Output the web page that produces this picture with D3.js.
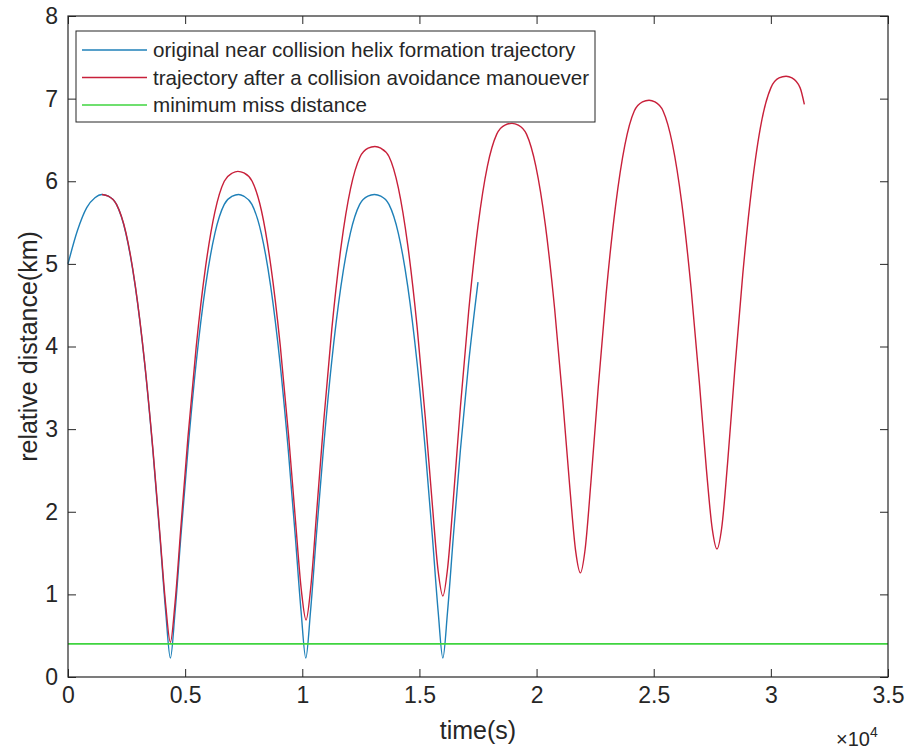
<!DOCTYPE html>
<html lang="en">
<head>
  <meta charset="utf-8">
  <title>relative distance</title>
  <script src="https://cdn.jsdelivr.net/npm/d3@7"></script>
  <style>
    body {
      margin: 0;
      background: #ffffff;
    }
    svg {
      display: block;
      font-family: "Liberation Sans", Arial, sans-serif;
    }
  </style>
</head>
<body>
  <svg id="chart" width="907" height="750"></svg>
  <script>
    //
    // Data (time in s, distance in km)
    //

    var blueTime = [0, 400, 800, 1150, 1450, 1720, 2070, 2470, 2870, 3270, 3620, 3920, 4170, 4370,
      4570, 4820, 5120, 5470, 5870, 6270, 6670, 7020, 7280,
      7500, 7850, 8250, 8650, 9050, 9400, 9700, 9950, 10150,
      10350, 10600, 10900, 11250, 11650, 12050, 12450, 12800, 13080,
      13350, 13700, 14100, 14500, 14900, 15250, 15550, 15800, 16000,
      16200, 16450, 16750, 17100, 17500]
    var blueDist = [5.00, 5.40, 5.68, 5.80, 5.84, 5.82, 5.72, 5.37, 4.73, 3.80, 2.75, 1.71, 0.79, 0.23,
      0.79, 1.71, 2.75, 3.80, 4.73, 5.37, 5.72, 5.82, 5.84,
      5.82, 5.72, 5.37, 4.73, 3.80, 2.75, 1.71, 0.79, 0.23,
      0.79, 1.71, 2.75, 3.80, 4.73, 5.37, 5.72, 5.82, 5.84,
      5.82, 5.72, 5.37, 4.73, 3.80, 2.75, 1.71, 0.79, 0.23,
      0.79, 1.71, 2.75, 3.80, 4.78]

    var redTime = [1450, 1720, 2070, 2470, 2870, 3270, 3620, 3920, 4170, 4370,
      4570, 4820, 5120, 5470, 5870, 6270, 6670, 7020, 7250,
      7510, 7860, 8260, 8660, 9060, 9410, 9710, 9960, 10160,
      10360, 10610, 10910, 11260, 11660, 12060, 12460, 12810, 13100,
      13350, 13700, 14100, 14500, 14900, 15250, 15550, 15800, 16000,
      16200, 16450, 16750, 17100, 17500, 17900, 18300, 18650, 18950,
      19220, 19570, 19970, 20370, 20770, 21120, 21420, 21670, 21870,
      22070, 22320, 22620, 22970, 23370, 23770, 24170, 24520, 24800,
      25050, 25400, 25800, 26200, 26600, 26950, 27250, 27500, 27700,
      27900, 28150, 28450, 28800, 29200, 29600, 30000, 30350, 30650,
      30900, 31250, 31430]
    var redDist = [5.84, 5.82, 5.72, 5.38, 4.74, 3.81, 2.77, 1.74, 0.87, 0.42,
      0.90, 1.82, 2.90, 3.99, 4.96, 5.63, 6.00, 6.10, 6.12,
      6.10, 6.00, 5.64, 4.97, 4.01, 2.94, 1.89, 1.05, 0.69,
      1.08, 1.98, 3.08, 4.21, 5.22, 5.91, 6.29, 6.40, 6.42,
      6.40, 6.30, 5.92, 5.23, 4.24, 3.14, 2.09, 1.28, 0.98,
      1.31, 2.16, 3.27, 4.42, 5.46, 6.18, 6.57, 6.68, 6.70,
      6.68, 6.57, 6.18, 5.48, 4.46, 3.34, 2.29, 1.52, 1.26,
      1.54, 2.36, 3.46, 4.64, 5.70, 6.44, 6.85, 6.96, 6.98,
      6.96, 6.85, 6.45, 5.73, 4.69, 3.56, 2.51, 1.79, 1.55,
      1.80, 2.58, 3.68, 4.87, 5.96, 6.72, 7.13, 7.25, 7.27,
      7.25, 7.13, 6.93]

    var missTime = [0, 35000]
    var missDist = [0.4, 0.4]

    var xTicks = [0, 5000, 10000, 15000, 20000, 25000, 30000, 35000]
    var xTickLabels = ['0', '0.5', '1', '1.5', '2', '2.5', '3', '3.5']
    var yTicks = [0, 1, 2, 3, 4, 5, 6, 7, 8]

    var seriesNames = [
      'original near collision helix formation trajectory',
      'trajectory after a collision avoidance manouever',
      'minimum miss distance'
    ]
    var seriesColors = ['#1f80b8', '#c8203a', '#3fd43f']

    //
    // Layout
    //

    var plotLeft = 68, plotTop = 16, plotRight = 888, plotBottom = 677
    var axisColor = '#262626'

    var svg = d3.select('#chart')

    var x = d3.scaleLinear().domain([0, 35000]).range([plotLeft, plotRight])
    var y = d3.scaleLinear().domain([0, 8]).range([plotBottom, plotTop])

    // axes, ticks pointing inward like matlab
    function styleAxis(g) {
      g.select('.domain').remove()
      g.selectAll('line').attr('stroke', axisColor)
      g.selectAll('text')
        .attr('fill', axisColor)
        .style('font-family', '"Liberation Sans", Arial, sans-serif')
        .style('font-size', '23px')
    }

    svg.append('g')
      .attr('transform', 'translate(0,' + plotBottom + ')')
      .call(d3.axisBottom(x).tickValues(xTicks)
        .tickFormat(function(d, i) { return xTickLabels[i] })
        .tickSize(-8).tickPadding(10))
      .call(styleAxis)

    svg.append('g')
      .attr('transform', 'translate(0,' + plotTop + ')')
      .call(d3.axisTop(x).tickValues(xTicks).tickFormat('').tickSize(-8))
      .call(styleAxis)

    svg.append('g')
      .attr('transform', 'translate(' + plotLeft + ',0)')
      .call(d3.axisLeft(y).tickValues(yTicks).tickFormat(d3.format('d'))
        .tickSize(-8).tickPadding(10))
      .call(styleAxis)

    svg.append('g')
      .attr('transform', 'translate(' + plotRight + ',0)')
      .call(d3.axisRight(y).tickValues(yTicks).tickFormat('').tickSize(-8))
      .call(styleAxis)

    //
    // Lines
    //

    var line = d3.line()
      .x(function(d) { return x(d[0]) })
      .y(function(d) { return y(d[1]) })
      .curve(d3.curveMonotoneX)

    var series = [
      d3.zip(blueTime, blueDist),
      d3.zip(redTime, redDist),
      d3.zip(missTime, missDist)
    ]
    var widths = [1.4, 1.4, 1.8]

    svg.append('g')
      .selectAll('path')
      .data(series)
      .join('path')
      .attr('d', line)
      .attr('fill', 'none')
      .attr('stroke', function(d, i) { return seriesColors[i] })
      .attr('stroke-width', function(d, i) { return widths[i] })

    // box
    svg.append('rect')
      .attr('x', plotLeft).attr('y', plotTop)
      .attr('width', plotRight - plotLeft).attr('height', plotBottom - plotTop)
      .attr('fill', 'none')
      .attr('stroke', axisColor)
      .attr('stroke-width', 1.2)

    //
    // Legend
    //

    var legend = svg.append('g')
    legend.append('rect')
      .attr('x', 76).attr('y', 31)
      .attr('width', 519).attr('height', 91)
      .attr('fill', '#ffffff')
      .attr('stroke', axisColor)
      .attr('stroke-width', 1)

    var rows = legend.selectAll('g.row')
      .data(seriesNames)
      .join('g')
      .attr('class', 'row')
      .attr('transform', function(d, i) { return 'translate(0,' + (50 + i * 27.5) + ')' })

    rows.append('line')
      .attr('x1', 82).attr('x2', 147)
      .attr('stroke', function(d, i) { return seriesColors[i] })
      .attr('stroke-width', 1.3)

    rows.append('text')
      .attr('x', 153)
      .attr('dy', '0.35em')
      .attr('fill', axisColor)
      .style('font-size', '20.6px')
      .text(function(d) { return d })

    //
    // Axis labels
    //

    svg.append('text')
      .attr('x', (plotLeft + plotRight) / 2)
      .attr('y', 739)
      .attr('text-anchor', 'middle')
      .attr('fill', axisColor)
      .style('font-size', '25px')
      .text('time(s)')

    svg.append('text')
      .attr('transform', 'translate(37,' + (plotTop + plotBottom) / 2 + ') rotate(-90)')
      .attr('text-anchor', 'middle')
      .attr('fill', axisColor)
      .style('font-size', '25px')
      .text('relative distance(km)')

    var expo = svg.append('text')
      .attr('x', 836)
      .attr('y', 746)
      .attr('fill', axisColor)
      .style('font-size', '20px')
    expo.append('tspan').text('\u00d710')
    expo.append('tspan').attr('dy', -9).style('font-size', '14px').text('4')
  </script>
</body>
</html>
